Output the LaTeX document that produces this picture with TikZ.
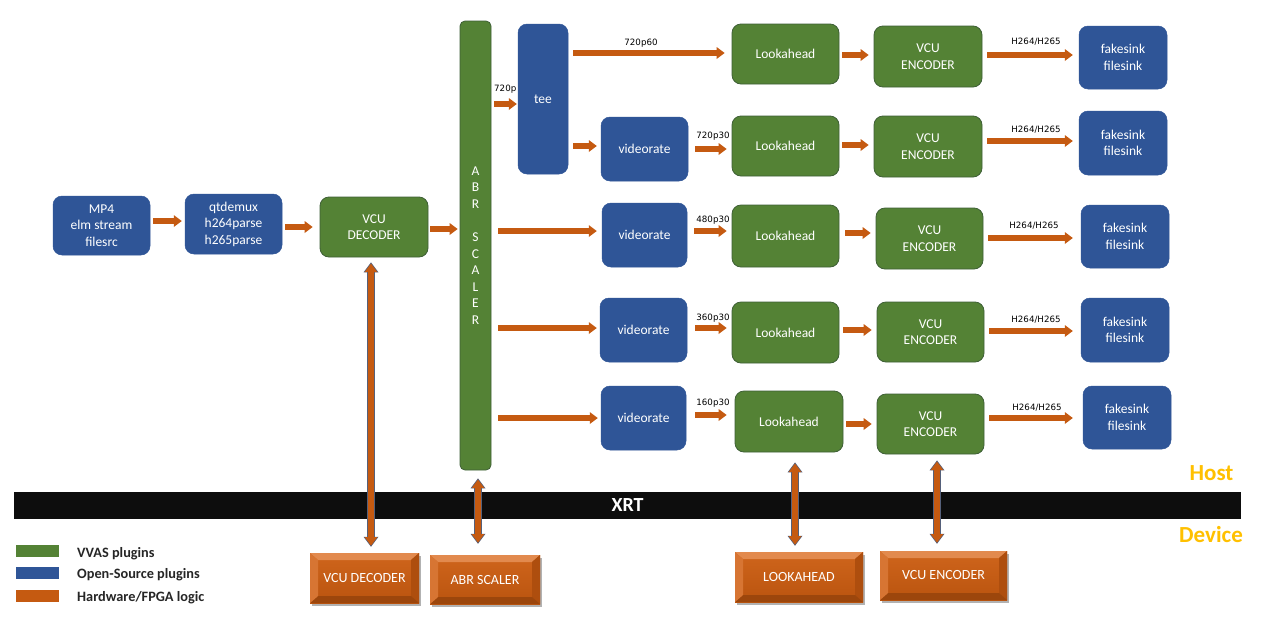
\documentclass[tikz,border=0pt]{standalone}
\usepackage{fontspec}
\setmainfont{Carlito}
\newfontfamily\labfont{DejaVu Sans}
\usetikzlibrary{arrows.meta,shadows,calc}
\definecolor{vgreen}{HTML}{548235}
\definecolor{vgreenline}{HTML}{3E5F36}
\definecolor{oblue}{HTML}{2F5597}
\definecolor{hw}{HTML}{C55A11}
\definecolor{hwtopc}{HTML}{CF651C}
\definecolor{hwbotc}{HTML}{BA540F}
\definecolor{hwlight}{HTML}{E28A4E}
\definecolor{hwleft}{HTML}{D77533}
\definecolor{hwright}{HTML}{AE4E0E}
\definecolor{hwdark}{HTML}{9C460C}
\definecolor{varrline}{HTML}{55607A}
\definecolor{gold}{HTML}{FFC000}
\definecolor{legtext}{HTML}{262626}
\definecolor{xrtblack}{HTML}{0D0D0D}
\tikzset{
 boxtext/.style={text=white, font=\fontsize{13.5}{16.5}\selectfont, align=center, inner sep=0pt},
 gbox/.style={boxtext, fill=vgreen, draw=vgreenline, line width=0.8pt, rounded corners=9pt},
 bbox/.style={boxtext, fill=oblue, draw=oblue, line width=0.5pt, rounded corners=9pt},
 sz/.style 2 args={minimum width=#1pt, minimum height=#2pt},
 harr/.style={draw=hw, line width=6pt, -{Triangle[width=12pt,length=8pt,line width=0pt]}, shorten <=5pt, shorten >=5pt},
 varrout/.style={draw=varrline, line width=7.5pt, {Triangle[width=15pt,length=10pt,line width=0pt]}-{Triangle[width=15pt,length=10pt,line width=0pt]}},
 varrin/.style={draw=hw, line width=5.5pt, {Triangle[width=12.5pt,length=8.4pt,line width=0pt]}-{Triangle[width=12.5pt,length=8.4pt,line width=0pt]}},
 lab/.style={font=\labfont\fontsize{8.7}{10}\selectfont, text=black, inner sep=0pt, anchor=base},
 legtxt/.style={font=\bfseries\fontsize{14.3}{16}\selectfont, text=legtext, inner sep=0pt, anchor=base west},
 legsq/.style={inner sep=0pt, sz={43}{12}},
 hwbox/.style={boxtext, font=\fontsize{14}{16}\selectfont, top color=hwtopc, bottom color=hwbotc,
   drop shadow={shadow xshift=2pt, shadow yshift=-2.5pt, opacity=0.3, fill=black},
   path picture={
    \coordinate (pnw) at (path picture bounding box.north west);
    \coordinate (pne) at (path picture bounding box.north east);
    \coordinate (psw) at (path picture bounding box.south west);
    \coordinate (pse) at (path picture bounding box.south east);
    \fill[hwlight] (pnw) -- (pne) -- ([shift={(-8pt,-7pt)}]pne) -- ([shift={(8pt,-7pt)}]pnw) -- cycle;
    \fill[hwright] (pne) -- (pse) -- ([shift={(-8pt,7pt)}]pse) -- ([shift={(-8pt,-7pt)}]pne) -- cycle;
    \fill[hwdark] (pse) -- (psw) -- ([shift={(8pt,7pt)}]psw) -- ([shift={(-8pt,7pt)}]pse) -- cycle;
    \fill[hwleft] (psw) -- (pnw) -- ([shift={(8pt,-7pt)}]pnw) -- ([shift={(8pt,7pt)}]psw) -- cycle;
   }},
 hostlab/.style={font=\bfseries\fontsize{23}{26}\selectfont, text=gold, inner sep=0pt, anchor=base}
}
\begin{document}
\begin{tikzpicture}[x=1pt,y=-1pt]
\fill[white] (0,0) rectangle (1264,619);
\useasboundingbox (0,0) rectangle (1264,619);

% label partly under the tee box
\node[lab, anchor=base west] (l720) at (494,91) {720p};

% source chain
\node[bbox, sz={97}{59}] (mp4) at (101.5,225.5) {MP4\\elm stream\\filesrc};
\node[bbox, sz={97}{60}] (qt) at (233.5,224) {qtdemux\\h264parse\\h265parse};
\node[gbox, sz={108}{60}] (dec) at (374,227) {VCU\\DECODER};
\node[gbox, sz={31}{449}, rounded corners=5pt] (abr) at (475.5,245.5) {A\\B\\R\\[17pt]S\\C\\A\\L\\E\\R};
\node[bbox, sz={50}{150}] (tee) at (543,99) {tee};

% row 1
\node[gbox, sz={107}{60}] (la1) at (785.5,54) {Lookahead};
\node[gbox, sz={108}{61}] (enc1) at (928,56.5) {VCU\\ENCODER};
\node[bbox, sz={88}{63}] (fs1) at (1123,57.5) {fakesink\\filesink};
% row 2
\node[bbox, sz={87}{64}] (vr2) at (644.5,149) {videorate};
\node[gbox, sz={107}{60}] (la2) at (785.5,146) {Lookahead};
\node[gbox, sz={108}{61}] (enc2) at (928,146.5) {VCU\\ENCODER};
\node[bbox, sz={88}{64}] (fs2) at (1123,143) {fakesink\\filesink};
% row 3
\node[bbox, sz={85}{64}] (vr3) at (644.5,235) {videorate};
\node[gbox, sz={107}{62}] (la3) at (785.5,236) {Lookahead};
\node[gbox, sz={107}{61}] (enc3) at (929.5,238.5) {VCU\\ENCODER};
\node[bbox, sz={88}{63}] (fs3) at (1125,236.5) {fakesink\\filesink};
% row 4
\node[bbox, sz={87}{64}] (vr4) at (643.5,330) {videorate};
\node[gbox, sz={107}{61}] (la4) at (785.5,332.5) {Lookahead};
\node[gbox, sz={107}{60}] (enc4) at (930.5,332) {VCU\\ENCODER};
\node[bbox, sz={88}{64}] (fs4) at (1125,330) {fakesink\\filesink};
% row 5
\node[bbox, sz={85}{64}] (vr5) at (643.5,418) {videorate};
\node[gbox, sz={108}{61}] (la5) at (789,421.5) {Lookahead};
\node[gbox, sz={107}{60}] (enc5) at (930.5,424) {VCU\\ENCODER};
\node[bbox, sz={88}{63}] (fs5) at (1127,417.5) {fakesink\\filesink};

% XRT bar and host/device
\node[fill=xrtblack, sz={1227}{27}, inner sep=0pt, text=white, font=\bfseries\fontsize{20}{22}\selectfont] (xrt) at (627.5,505.5) {XRT};
\node[hostlab] (host) at (1211.5,480) {Host};
\node[hostlab] (device) at (1211,542) {Device};

% hardware boxes
\node[hwbox, sz={109}{50}] (hwdec) at (364.5,578) {VCU DECODER};
\node[hwbox, sz={110}{49}] (hwabr) at (485,579.5) {ABR SCALER};
\node[hwbox, sz={128}{50}] (hwla) at (799,577) {LOOKAHEAD};
\node[hwbox, sz={127}{49}] (hwenc) at (943.5,575.5) {\raisebox{2pt}{VCU ENCODER}};

% legend
\node[legsq, fill=vgreen] (lg1) at (37.5,551) {};
\node[legsq, fill=oblue] (lg2) at (37.5,573) {};
\node[legsq, fill=hw] (lg3) at (37.5,596) {};
\node[legtxt] (lt1) at (77,557) {VVAS plugins};
\node[legtxt] (lt2) at (77,578.5) {Open-Source plugins};
\node[legtxt] (lt3) at (77,601) {Hardware/FPGA logic};

% horizontal arrows
\draw[harr, shorten <=3pt, shorten >=3pt] (mp4.east |- 0,221) -- (qt.west |- 0,221);
\draw[harr, shorten <=3pt, shorten >=7pt] (qt.east |- 0,227) -- (dec.west |- 0,227);
\draw[harr, shorten <=2pt, shorten >=2pt] (dec.east |- 0,229) -- (abr.west |- 0,229);
\draw[harr, shorten <=3pt, shorten >=1pt] (abr.east |- 0,104) -- (tee.west |- 0,104);
\draw[harr, shorten >=7pt] (tee.east |- 0,53) -- (la1.west |- 0,53);
\draw[harr, shorten >=4pt] (tee.east |- 0,146) -- (vr2.west |- 0,146);
\draw[harr, shorten <=7pt] (abr.east |- 0,231) -- (vr3.west |- 0,231);
\draw[harr, shorten <=7pt, shorten >=3pt] (abr.east |- 0,328) -- (vr4.west |- 0,328);
\draw[harr, shorten <=7pt, shorten >=3pt] (abr.east |- 0,418) -- (vr5.west |- 0,418);

\draw[harr, shorten <=7pt] (vr2.east |- 0,149) -- (la2.west |- 0,149);
\draw[harr, shorten <=7pt] (vr3.east |- 0,231) -- (la3.west |- 0,231);
\draw[harr, shorten <=8pt] (vr4.east |- 0,328) -- (la4.west |- 0,328);
\draw[harr, shorten <=9pt, shorten >=8pt] (vr5.east |- 0,415) -- (la5.west |- 0,415);

\draw[harr, shorten <=3pt] (la1.east |- 0,55) -- (enc1.west |- 0,55);
\draw[harr, shorten <=3pt] (la2.east |- 0,145) -- (enc2.west |- 0,145);
\draw[harr, shorten <=6pt] (la3.east |- 0,233) -- (enc3.west |- 0,233);
\draw[harr, shorten <=4pt] (la4.east |- 0,330) -- (enc4.west |- 0,330);
\draw[harr, shorten <=3pt] (la5.east |- 0,424) -- (enc5.west |- 0,424);

\draw[harr, shorten >=6pt] (enc1.east |- 0,55) -- (fs1.west |- 0,55);
\draw[harr, shorten >=6pt] (enc2.east |- 0,141) -- (fs2.west |- 0,141);
\draw[harr, shorten >=8pt] (enc3.east |- 0,238) -- (fs3.west |- 0,238);
\draw[harr, shorten >=8pt] (enc4.east |- 0,331) -- (fs4.west |- 0,331);
\draw[harr, shorten >=10pt] (enc5.east |- 0,418) -- (fs5.west |- 0,418);

% arrow labels
\node[lab] (l720p60) at (641,45.5) {720p60};
\node[lab] (l720p30) at (713,138) {720p30};
\node[lab] (l480) at (713,222) {480p30};
\node[lab] (l360) at (713,320) {360p30};
\node[lab] (l160) at (713,405) {160p30};
\node[lab] (h1) at (1036,44) {H264/H265};
\node[lab] (h2) at (1036,132) {H264/H265};
\node[lab] (h3) at (1034,228) {H264/H265};
\node[lab] (h4) at (1036,322) {H264/H265};
\node[lab] (h5) at (1037,410) {H264/H265};

% vertical host/device arrows
\draw[varrout, shorten <=5pt, shorten >=6pt] ([xshift=-3pt]dec.south) -- ([xshift=-3pt]dec.south |- hwdec.north);
\draw[varrin, shorten <=6.2pt, shorten >=7.2pt] ([xshift=-3pt]dec.south) -- ([xshift=-3pt]dec.south |- hwdec.north);
\draw[varrout, shorten <=8pt, shorten >=11pt] ([xshift=2.5pt]abr.south) -- ([xshift=2.5pt]abr.south |- hwabr.north);
\draw[varrin, shorten <=9.2pt, shorten >=12.2pt] ([xshift=2.5pt]abr.south) -- ([xshift=2.5pt]abr.south |- hwabr.north);
\draw[varrout, shorten <=10pt, shorten >=6pt] ([xshift=6pt]la5.south) -- ([xshift=6pt]la5.south |- hwla.north);
\draw[varrin, shorten <=11.2pt, shorten >=7.2pt] ([xshift=6pt]la5.south) -- ([xshift=6pt]la5.south |- hwla.north);
\draw[varrout, shorten <=6pt, shorten >=7pt] ([xshift=6.5pt]enc5.south) -- ([xshift=6.5pt]enc5.south |- hwenc.north);
\draw[varrin, shorten <=7.2pt, shorten >=8.2pt] ([xshift=6.5pt]enc5.south) -- ([xshift=6.5pt]enc5.south |- hwenc.north);
\end{tikzpicture}
\end{document}
